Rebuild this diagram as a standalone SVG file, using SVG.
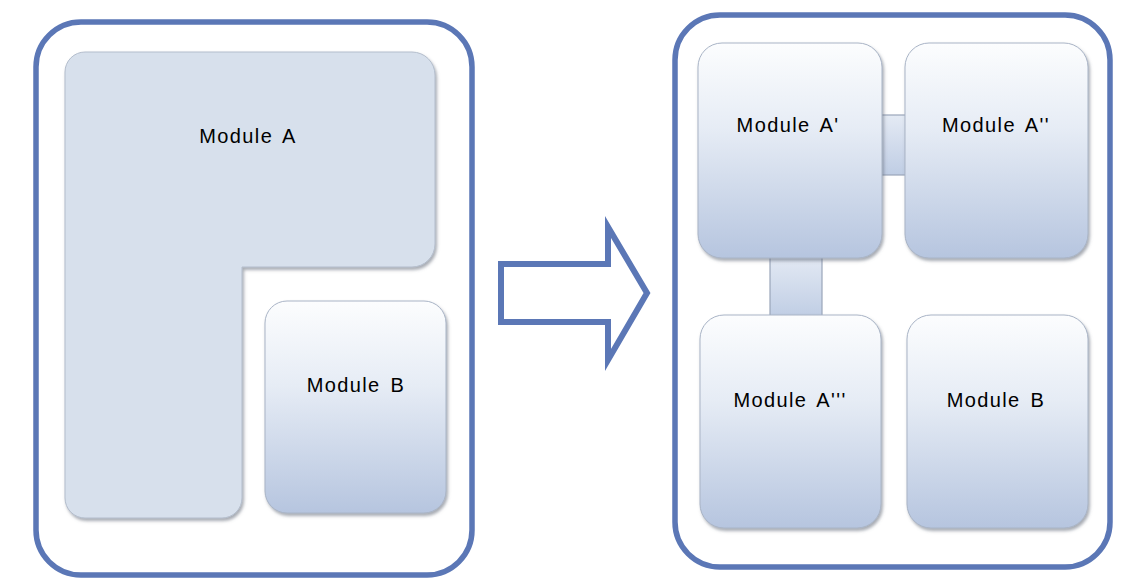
<svg xmlns="http://www.w3.org/2000/svg" width="1135" height="586" viewBox="0 0 1135 586">
  <defs>
    <linearGradient id="modFill" x1="0" y1="0" x2="0" y2="1">
      <stop offset="0" stop-color="#FCFDFE"/>
      <stop offset="0.4" stop-color="#E6ECF5"/>
      <stop offset="1" stop-color="#B6C5DF"/>
    </linearGradient>
    <linearGradient id="barFill" x1="0" y1="0" x2="0" y2="1">
      <stop offset="0" stop-color="#E4EAF4"/>
      <stop offset="1" stop-color="#BFCDE4"/>
    </linearGradient>
    <filter id="shadow" x="-10%" y="-10%" width="125%" height="125%">
      <feDropShadow dx="1.5" dy="2.5" stdDeviation="1.5" flood-color="#5E6675" flood-opacity="0.55"/>
    </filter>
  </defs>
  <style>
    .frame { fill: none; stroke: #5B77B6; stroke-width: 5.5; }
    .module { fill: url(#modFill); stroke: #A9B4C6; stroke-width: 1; filter: url(#shadow); }
    .bar { fill: url(#barFill); stroke: #9AA6BA; stroke-width: 1.2; }
    .label { font-family: "Liberation Sans", Arial, sans-serif; font-size: 20px; fill: #000; text-anchor: middle; letter-spacing: 1.4px; word-spacing: 3px; }
  </style>

  <rect width="1135" height="586" fill="#FFFFFF"/>

  <!-- before: Module A as one L-shaped block next to Module B -->
  <g id="before">
    <rect class="frame" x="36" y="22" width="436" height="553" rx="45"/>
    <g id="moduleA">
      <path d="M 85 52 H 412 A 23 23 0 0 1 435 75 V 244 A 23 23 0 0 1 412 267 H 242 V 498 A 20 20 0 0 1 222 518 H 85 A 20 20 0 0 1 65 498 V 72 A 20 20 0 0 1 85 52 Z" fill="#D7E0EC" stroke="#B3BDCC" stroke-width="1" filter="url(#shadow)"/>
      <text class="label" x="248" y="143">Module A</text>
    </g>
    <g id="moduleB-before">
      <rect class="module" x="265" y="301" width="181" height="212" rx="22"/>
      <text class="label" x="356" y="392">Module B</text>
    </g>
  </g>

  <!-- transition arrow -->
  <g id="arrow">
    <path d="M 501 264 H 608 V 227 L 647 293 L 608 360 V 322 H 501 Z" fill="#FFFFFF" stroke="#5B77B6" stroke-width="6" stroke-linejoin="miter"/>
  </g>

  <!-- after: Module A split into three parts -->
  <g id="after">
    <rect class="frame" x="675" y="15" width="435" height="552" rx="45"/>
  </g>

  <g id="connectors">
    <rect class="bar" x="880" y="115" width="27" height="60"/>
    <rect class="bar" x="770" y="255" width="52" height="63"/>
  </g>

  <g id="moduleA1">
    <rect class="module" x="698" y="43" width="184" height="215" rx="24"/>
    <text class="label" x="788" y="132">Module A'</text>
  </g>
  <g id="moduleA2">
    <rect class="module" x="905" y="43" width="183" height="215" rx="24"/>
    <text class="label" x="996" y="132">Module A''</text>
  </g>
  <g id="moduleA3">
    <rect class="module" x="700" y="315" width="181" height="213" rx="24"/>
    <text class="label" x="790" y="407">Module A'''</text>
  </g>
  <g id="moduleB-after">
    <rect class="module" x="907" y="315" width="181" height="213" rx="24"/>
    <text class="label" x="996" y="407">Module B</text>
  </g>
</svg>
